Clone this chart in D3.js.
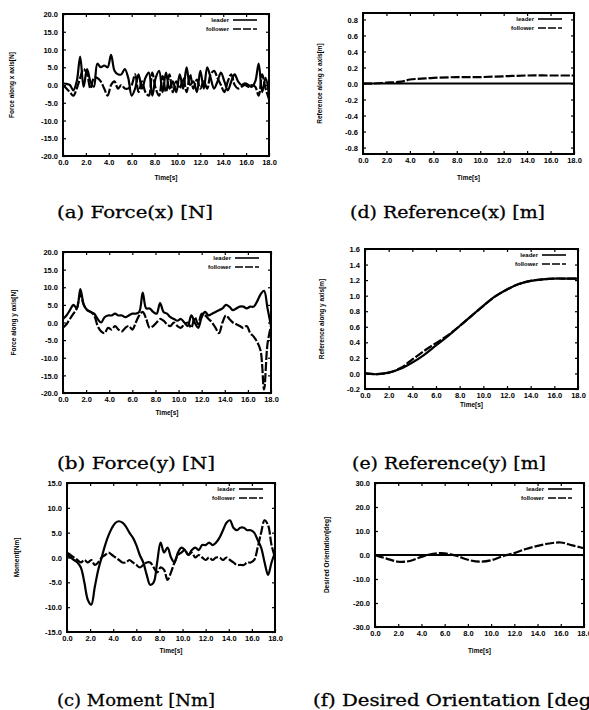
<!DOCTYPE html>
<html>
<head>
<meta charset="utf-8">
<script src="https://cdn.jsdelivr.net/npm/d3@7"></script>
<style>
  body { margin: 0; background: #fff; }
  .tick text { font-family: "Liberation Sans", Arial, sans-serif; font-weight: bold; font-size: 7.5px; fill: #000; }
  .tick line { stroke: #000; stroke-width: 1.2; }
</style>
</head>
<body>
<div id="fig"></div>
<script>
// sample times (s)
const timeFine = [0,0.3,0.6,0.9,1.2,1.5,1.8,2.1,2.4,2.7,3,3.3,3.6,3.9,4.2,4.5,4.8,5.1,5.4,5.7,
  6,6.3,6.6,6.9,7.2,7.5,7.8,8.1,8.4,8.7,9,9.3,9.6,9.9,10.2,10.5,10.8,11.1,11.4,11.7,
  12,12.3,12.6,12.9,13.2,13.5,13.8,14.1,14.4,14.7,15,15.3,15.6,15.9,16.2,16.5,16.8,17.1,17.4,17.7,18];
const timeCoarse = [0,1,2,3,4,5,6,7,8,9,10,11,12,13,14,15,16,17,18];
const timeRefX = [0,1,2,3,3.5,4,5,6,8,10,12,14,16,18];

// (a) force along x [N]
const forceXLeader = [0.5,0.3,0,-1.5,1,8,-0.5,4.5,1,-0.5,6,5,5.5,5,8.5,4,3,3,4.5,2,
  -3,-1,3,-1,2,3.5,-3,2,4,-2,3.5,-1,1,-2,3,-1,5,0,1,-2,
  4,-1,5,2,-1,1,3.5,1,-1.5,1,3,1,0,0.5,0,-0.5,1,6,-2,2,-3];
const forceXFollower = [0,-1,-2,-3,-1,2,4.5,3,-1,2,2,1,-1,-3,0,1,-1,0,-1,-1,
  0,3,-2,1,-2,-3,3.5,-1,-3,2.5,-2,3,-2,1,-1,2,-2,3,-1,1.5,
  -1,1,-1,3,4,2,0,-2,1,3,0,-1,-0.5,0,-0.5,0,-0.5,-3,3,-1,-4];

// (b) force along y [N]
const forceYLeader = [1,2,3.5,5,4,9.5,5,3.5,3,2.5,1,0,1.5,2,2,2.5,2,2,1.5,2,
  2.5,2.5,3,8.5,4,4,3,2.5,5.5,3,2.5,1.5,1,0.5,1,0,-1,2,0,-1.5,
  1.5,3,2,2.5,3,3.5,4,5,4.5,3.5,4,4.5,4.5,4,4.5,4.5,6,8,9,4,-1];
const forceYFollower = [-1.5,-0.5,1,2.5,4,8,5,3.5,3,2,-1,-2.5,-3,-1.5,-2,-1,-2,-2.5,-1.5,-1,
  -2,0,2,3,1,-1.5,-1,0,1,0.5,-0.5,-1,0,-1,-1.5,-0.5,0,-1.5,1.5,-0.5,
  2.5,2,1,0,-1.5,-3,0,2,1,0,-0.5,-1,-1.5,-1,-3,-4,-5.5,-8,-19,-6,-1];

// (c) moment [Nm]
const momentLeader = [0.5,0,-0.5,-1,-2,-5,-8.5,-9.5,-6,-2.5,0,2.5,4.5,6,7,7.3,7,6.2,5,4,
  2.5,0.5,-1,-3.5,-5.5,-5,-1,3,1,2,0,-1,1,2,1.5,0.5,1.5,2,1.5,2.5,
  2.5,3,2.5,3,4,5.5,7,7.5,6,5.5,6,6,5.5,5.5,5,3.5,2,-1,-3.5,-1,1];
const momentFollower = [1,0.5,0,-0.5,-1,-0.5,-1,-0.5,-1.5,-1,0,0.5,1,0.5,0,-0.5,-1,-1,-0.5,-1,
  -1.5,-2,-1.5,-1,-1,-2,-3,-2,-2.5,-4.5,-3,-1,0.5,1,1.5,0.5,1,0,0.5,0,
  -0.5,0,-0.5,0,0,-0.5,0,-0.5,-1,-1.5,-1.5,-1.5,-1,-1,-0.5,2,5,7.5,6.5,2.5,0];

// (d) reference along x [m]
const refXLeader = [0,0,0,0,0,0,0,0,0,0,0,0,0,0];
const refXFollower = [0,0,0.01,0.02,0.03,0.05,0.06,0.07,0.08,0.08,0.09,0.1,0.1,0.1];

// (e) reference along y [m]
const refYLeader = [0,-0.01,0.01,0.06,0.14,0.24,0.36,0.48,0.61,0.74,0.87,0.99,1.08,1.15,1.19,1.21,1.22,1.22,1.22];
const refYFollower = [0,-0.01,0.01,0.07,0.18,0.29,0.39,0.49,0.61,0.74,0.87,0.99,1.08,1.15,1.19,1.21,1.22,1.22,1.22];

// (f) desired orientation [deg]
const orientLeader = [0,0,0,0,0,0,0,0,0,0,0,0,0,0,0,0,0,0,0];
const orientFollower = [0,-1.5,-2.8,-2.5,-0.8,0.5,0.7,-0.3,-2,-2.8,-2.2,-0.5,0.8,2.5,3.8,4.8,5.2,4,2.8];

// axis ticks
const timeTicks = [0,2,4,6,8,10,12,14,16,18];
const forceTicks = [-20,-15,-10,-5,0,5,10,15,20];
const refXTicks = [-0.8,-0.6,-0.4,-0.2,0,0.2,0.4,0.6,0.8];
const refYTicks = [-0.2,0,0.2,0.4,0.6,0.8,1,1.2,1.4,1.6];
const momentTicks = [-15,-10,-5,0,5,10,15];
const orientTicks = [-30,-20,-10,0,10,20,30];

const legendNames = ['leader', 'follower'];

const W = 589, H = 710;
const svg = d3.select('#fig').append('svg')
  .attr('width', W).attr('height', H)
  .style('background', '#fff');

const panels = [
  { time: timeFine, lead: forceXLeader, fol: forceXFollower, yDomain: [-20, 20], yTicks: forceTicks,
    yLabel: 'Force along x axis[N]', left: 63, right: 269, top: 14, bottom: 156, ylabX: 12, timeY: 178 },
  { time: timeRefX, lead: refXLeader, fol: refXFollower, yDomain: [-0.88, 0.88], yTicks: refXTicks,
    yLabel: 'Reference along x axis[m]', left: 363, right: 574, top: 13, bottom: 154, ylabX: 320, timeY: 178 },
  { time: timeFine, lead: forceYLeader, fol: forceYFollower, yDomain: [-20, 20], yTicks: forceTicks,
    yLabel: 'Force along y axis[N]', left: 63, right: 271, top: 252, bottom: 393, ylabX: 14, timeY: 413 },
  { time: timeCoarse, lead: refYLeader, fol: refYFollower, yDomain: [-0.2, 1.6], yTicks: refYTicks,
    yLabel: 'Reference along y axis[m]', left: 365, right: 578, top: 249, bottom: 389, ylabX: 322, timeY: 405 },
  { time: timeFine, lead: momentLeader, fol: momentFollower, yDomain: [-15, 15], yTicks: momentTicks,
    yLabel: 'Moment[Nm]', left: 67, right: 275, top: 483, bottom: 632, ylabX: 17, timeY: 651 },
  { time: timeCoarse, lead: orientLeader, fol: orientFollower, yDomain: [-30, 30], yTicks: orientTicks,
    yLabel: 'Desired Orientation[deg]', left: 375, right: 584, top: 483, bottom: 627, ylabX: 327, timeY: 651 }
];

const captions = [
  { text: '(a) Force(x) [N]', x: 57, y: 218, len: 156 },
  { text: '(d) Reference(x) [m]', x: 350, y: 218, len: 195 },
  { text: '(b) Force(y) [N]', x: 57, y: 469, len: 158 },
  { text: '(e) Reference(y) [m]', x: 352, y: 469, len: 194 },
  { text: '(c) Moment [Nm]', x: 57, y: 706, len: 158 },
  { text: '(f) Desired Orientation [deg]', x: 313, y: 706, len: 286 }
];

const fmt = d => d.toFixed(1);

panels.forEach((p, i) => {
  const g = svg.append('g');
  const x = d3.scaleLinear().domain([0, 18]).range([p.left, p.right]);
  const y = d3.scaleLinear().domain(p.yDomain).range([p.bottom, p.top]);

  // axes (gnuplot style: inward ticks, mirrored)
  g.append('g').attr('transform', `translate(0,${p.bottom})`)
    .call(d3.axisBottom(x).tickValues(timeTicks).tickSize(-3).tickPadding(4).tickFormat(fmt));
  const ay = g.append('g').attr('transform', `translate(${p.left},0)`)
    .call(d3.axisLeft(y).tickValues(p.yTicks).tickSize(-3).tickPadding(5).tickFormat(fmt));
  g.append('g').attr('transform', `translate(0,${p.top})`)
    .call(d3.axisTop(x).tickValues(timeTicks).tickSize(-3).tickFormat(''));
  g.append('g').attr('transform', `translate(${p.right},0)`)
    .call(d3.axisRight(y).tickValues(p.yTicks).tickSize(-3).tickFormat(''));
  g.selectAll('.domain').remove();
  ay.selectAll('text').attr('dy', '0.35em');

  const clipId = 'clip' + i;
  g.append('clipPath').attr('id', clipId).append('rect')
    .attr('x', p.left).attr('y', p.top)
    .attr('width', p.right - p.left).attr('height', p.bottom - p.top);

  const line = d3.line()
    .x((d, k) => x(p.time[k]))
    .y(d => y(d))
    .curve(d3.curveCatmullRom.alpha(0.5));

  g.append('path').datum(p.fol)
    .attr('d', line).attr('clip-path', `url(#${clipId})`)
    .attr('fill', 'none').attr('stroke', '#000').attr('stroke-width', 2.2)
    .attr('stroke-dasharray', '9,2');
  g.append('path').datum(p.lead)
    .attr('d', line).attr('clip-path', `url(#${clipId})`)
    .attr('fill', 'none').attr('stroke', '#000').attr('stroke-width', 2.2);

  // frame
  g.append('rect')
    .attr('x', p.left).attr('y', p.top)
    .attr('width', p.right - p.left).attr('height', p.bottom - p.top)
    .attr('fill', 'none').attr('stroke', '#000').attr('stroke-width', 2);

  // legend
  legendNames.forEach((name, k) => {
    const ly = p.top + 6 + k * 9;
    g.append('text')
      .attr('x', p.right - 40).attr('y', ly).attr('dy', '0.35em')
      .attr('text-anchor', 'end')
      .style('font-family', '"Liberation Sans", Arial, sans-serif')
      .style('font-weight', 'bold').style('font-size', '6px')
      .text(name);
    g.append('line')
      .attr('x1', p.right - 36).attr('x2', p.right - 12)
      .attr('y1', ly).attr('y2', ly)
      .attr('stroke', '#000').attr('stroke-width', 1.6)
      .attr('stroke-dasharray', k === 1 ? '8,2' : null);
  });

  // axis titles
  g.append('text')
    .attr('x', (p.left + p.right) / 2).attr('y', p.timeY).attr('dy', '0.35em')
    .attr('text-anchor', 'middle')
    .style('font-family', '"Liberation Sans", Arial, sans-serif')
    .style('font-weight', 'bold').style('font-size', '6.5px')
    .text('Time[s]');
  g.append('text')
    .attr('transform', `translate(${p.ylabX},${(p.top + p.bottom) / 2}) rotate(-90)`)
    .attr('dy', '0.35em')
    .attr('text-anchor', 'middle')
    .style('font-family', '"Liberation Sans", Arial, sans-serif')
    .style('font-weight', 'bold').style('font-size', '6.5px')
    .text(p.yLabel);
});

svg.selectAll('.caption').data(captions).enter()
  .append('text')
  .attr('class', 'caption')
  .attr('x', d => d.x).attr('y', d => d.y)
  .attr('textLength', d => d.len)
  .attr('lengthAdjust', 'spacingAndGlyphs')
  .style('font-family', '"DejaVu Serif", serif')
  .style('font-size', '17px')
  .style('fill', '#000')
  .style('stroke', '#000').style('stroke-width', 0.3)
  .text(d => d.text);
</script>
</body>
</html>
